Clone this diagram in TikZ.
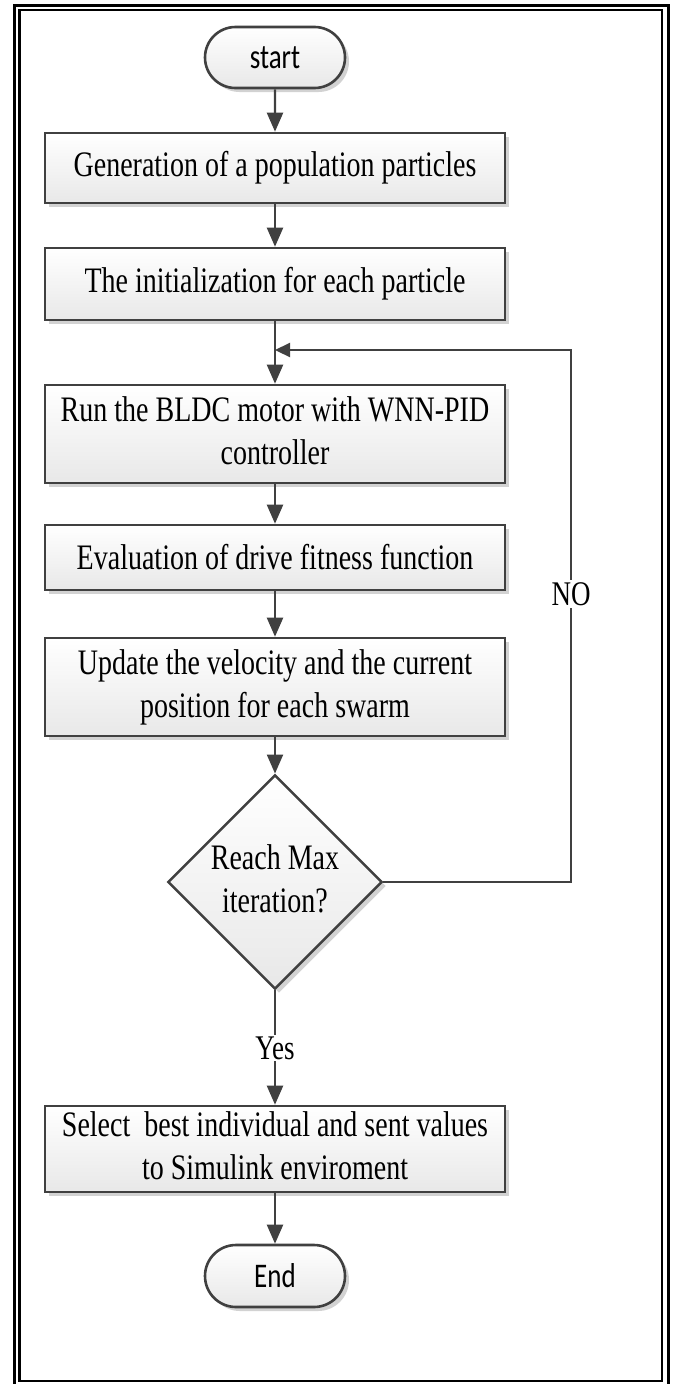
\documentclass[tikz,border=0pt]{standalone}
\usepackage{fontspec}
\setmainfont{Liberation Serif}
\newfontfamily\calib{Carlito}
\usetikzlibrary{shapes.geometric,shapes.misc,arrows.meta,shadows}
\definecolor{lc}{HTML}{404040}
\newcommand{\vs}[1]{\scalebox{1}[1.28]{#1}}
\newcommand{\twol}[2]{\vs{\begin{tabular}{@{}c@{}}#1\\#2\end{tabular}}}
\begin{document}
\begin{tikzpicture}[x=1pt,y=-1pt,
  shade/.style={top color=white, bottom color=black!9,
    drop shadow={shadow xshift=4pt, shadow yshift=-4pt, fill=black!35, opacity=0.5}},
  box/.style={shade, draw=lc, line width=2.6pt, minimum width=460pt, inner sep=0pt,
    font=\fontsize{28}{33.6}\selectfont},
  term/.style={shade, rounded rectangle, draw=lc, line width=2.6pt, minimum width=140pt,
    minimum height=61pt, inner sep=0pt, font=\calib\fontsize{27}{32}\selectfont},
  dec/.style={shade, diamond, draw=lc, line width=2.6pt, minimum width=204pt,
    minimum height=212pt, inner sep=0pt, font=\fontsize{28}{33.6}\selectfont},
  arr/.style={draw=lc, line width=2.2pt, -{Triangle[length=19pt,width=16pt]}},
  harr/.style={draw=lc, line width=2.2pt, -{Triangle[length=15pt,width=14pt]}},
  lbl/.style={fill=white, inner sep=2pt, font=\fontsize{27}{32}\selectfont}]
\useasboundingbox (0,0) rectangle (672,1384);
\fill[white] (0,0) rectangle (672,1384);
% frame
\draw[line width=3pt] (14.5,5) rectangle (668.5,1400);
\draw[line width=2.5pt] (19.5,10) rectangle (662,1381);
% nodes
\node[term] (start) at (275,57.5) {\vs{start}};
\node[box, minimum height=70pt] (b1) at (275,168) {\vs{Generation of a population particles}};
\node[box, minimum height=72pt] (b2) at (275,284) {\vs{The initialization for each particle}};
\node[box, minimum height=98pt] (b3) at (275,434) {\twol{Run the BLDC motor with WNN-PID}{controller}};
\node[box, minimum height=65pt] (b4) at (275,557.5) {\vs{Evaluation of drive fitness function}};
\node[box, minimum height=98pt] (b5) at (275,687) {\twol{Update the velocity and the current}{position for each swarm}};
\node[dec] (dia) at (275,882) {\twol{Reach Max}{iteration?}};
\node[box, minimum height=84pt] (b6) at (275,1149) {\twol{Select\ \ best individual and sent values}{to Simulink enviroment}};
\node[term, minimum height=62pt] (end) at (275,1276) {\vs{End}};
% coordinates
\coordinate (c1) at (571,882);
\coordinate (c2) at (571,350);
\coordinate (j) at (275,350);
% connectors
\draw[arr] (start) -- (b1);
\draw[arr] (b1) -- (b2);
\draw[arr] (b2) -- (b3);
\draw[arr] (b3) -- (b4);
\draw[arr] (b4) -- (b5);
\draw[arr] (b5) -- (dia);
\draw[harr] (dia.east) -- (c1) -- (c2) -- (j);
\draw[arr] (dia.south) -- (b6);
\draw[arr] (b6) -- (end);
% labels
\node[lbl] (no) at (571,594) {\vs{NO}};
\node[lbl] (yes) at (275,1048) {\vs{Yes}};
\end{tikzpicture}
\end{document}
